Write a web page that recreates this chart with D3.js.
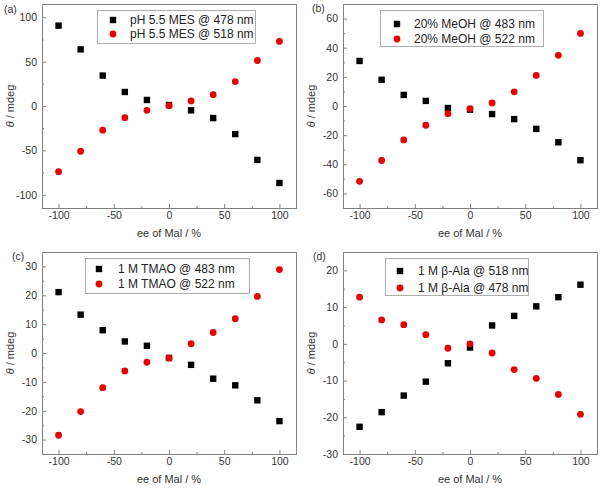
<!DOCTYPE html>
<html>
<head>
<meta charset="utf-8">
<script src="https://cdn.jsdelivr.net/npm/d3@7/dist/d3.min.js"></script>
<style>
  body { margin: 0; background: #fff; }
  svg { display: block; font-family: 'Liberation Sans', Arial, sans-serif; }
  .frame { fill: none; stroke: #808080; stroke-width: 1; }
  .axis path { display: none; }
  .axis line { stroke: #808080; }
  .axis text { fill: #333; font-size: 10.5px; }
</style>
</head>
<body>
<svg id="chart" width="601" height="490"></svg>
<script>
// ee of Mal (%), shared by every panel
const eeOfMal = [-100, -80, -60, -40, -20, 0, 20, 40, 60, 80, 100]

// (a) pH 5.5 MES
const mes478 = [90.6, 63.8, 34.3, 15.8, 6.8, 1.1, -4.9, -13.6, -31.7, -60.8, -86.8]
const mes518 = [-74, -51, -27.2, -13.2, -4.9, 0.4, 5.7, 12.8, 27.5, 51.3, 72.8]

// (b) 20% MeOH
const meoh483 = [30.9, 18, 7.6, 3.5, -1.4, -2.5, -5.5, -9, -15.7, -24.9, -37.2]
const meoh522 = [-51.7, -37.4, -23.3, -13.2, -5.3, -1.8, 2.1, 9.7, 21, 34.8, 49.8]

// (c) 1 M TMAO
const tmao483 = [21.1, 13.3, 7.9, 4, 2.5, -1.7, -4.1, -8.9, -11.2, -16.4, -23.6]
const tmao522 = [-28.5, -20.3, -12, -6.2, -3.2, -1.8, 3.2, 7.1, 11.9, 19.6, 28.9]

// (d) 1 M beta-Ala
const ala518 = [-22.6, -18.6, -14.1, -10.3, -5.3, -1, 5, 7.6, 10.2, 12.7, 16.1]
const ala478 = [12.7, 6.5, 5.2, 2.5, -1.2, 0, -2.5, -7, -9.4, -13.8, -19.2]

const xTicks = [-100, -50, 0, 50, 100]

const panels = [
  {
    tag: '(a)', tagPos: [4, 13], box: [42, 4, 296, 208],
    yDomain: [-115, 115], yTicks: [-100, -50, 0, 50, 100], yMinor: [-75, -25, 25, 75],
    legend: { x: 97, y: 10, w: 158, h: 33, rows: [20, 34], mark: 113, text: 130 },
    series: [
      { name: 'pH 5.5 MES @ 478 nm', values: mes478, shape: 'square' },
      { name: 'pH 5.5 MES @ 518 nm', values: mes518, shape: 'circle' }
    ]
  },
  {
    tag: '(b)', tagPos: [312, 12], box: [343, 4, 597, 208],
    yDomain: [-70, 70], yTicks: [-60, -40, -20, 0, 20, 40, 60], yMinor: [-50, -30, -10, 10, 30, 50],
    legend: { x: 380, y: 10, w: 163, h: 36, rows: [24, 39], mark: 397, text: 414 },
    series: [
      { name: '20% MeOH @ 483 nm', values: meoh483, shape: 'square' },
      { name: '20% MeOH @ 522 nm', values: meoh522, shape: 'circle' }
    ]
  },
  {
    tag: '(c)', tagPos: [12, 260], box: [42, 252, 296, 454],
    yDomain: [-35, 35], yTicks: [-30, -20, -10, 0, 10, 20, 30], yMinor: [-25, -15, -5, 5, 15, 25],
    legend: { x: 85, y: 258, w: 164, h: 35, rows: [269, 284], mark: 99, text: 118 },
    series: [
      { name: '1 M TMAO @ 483 nm', values: tmao483, shape: 'square' },
      { name: '1 M TMAO @ 522 nm', values: tmao522, shape: 'circle' }
    ]
  },
  {
    tag: '(d)', tagPos: [313, 260], box: [343, 252, 597, 454],
    yDomain: [-30, 25], yTicks: [-30, -20, -10, 0, 10, 20], yMinor: [-25, -15, -5, 5, 15],
    legend: { x: 385, y: 258, w: 143, h: 37, rows: [271, 288], mark: 400, text: 418 },
    series: [
      { name: '1 M \u03b2-Ala @ 518 nm', values: ala518, shape: 'square' },
      { name: '1 M \u03b2-Ala @ 478 nm', values: ala478, shape: 'circle' }
    ]
  }
]

const colors = { square: '#000', circle: '#e60000' }
const plain = function (d) { return String(d) }

const svg = d3.select('#chart')

panels.forEach(function (p) {
  let [x0, y0, x1, y1] = p.box
  let x = d3.scaleLinear().domain([-115, 115]).range([x0, x1])
  let y = d3.scaleLinear().domain(p.yDomain).range([y1, y0])
  let g = svg.append('g').attr('class', 'panel')

  // minor ticks
  g.append('g').attr('class', 'axis')
    .attr('transform', 'translate(0,' + y1 + ')')
    .call(d3.axisBottom(x).tickValues([-75, -25, 25, 75]).tickSize(-2).tickFormat(''))
  g.append('g').attr('class', 'axis')
    .attr('transform', 'translate(' + x0 + ',0)')
    .call(d3.axisLeft(y).tickValues(p.yMinor).tickSize(-2).tickFormat(''))

  // major ticks
  g.append('g').attr('class', 'axis')
    .attr('transform', 'translate(0,' + y1 + ')')
    .call(d3.axisBottom(x).tickValues(xTicks).tickSize(-4).tickPadding(4).tickFormat(plain))
  g.append('g').attr('class', 'axis')
    .attr('transform', 'translate(' + x0 + ',0)')
    .call(d3.axisLeft(y).tickValues(p.yTicks).tickSize(-4).tickPadding(5).tickFormat(plain))

  g.append('rect')
    .attr('class', 'frame')
    .attr('x', x0 + 0.5).attr('y', y0 + 0.5)
    .attr('width', x1 - x0).attr('height', y1 - y0)

  // axis titles
  g.append('text')
    .attr('x', (x0 + x1) / 2).attr('y', y1 + 29)
    .attr('text-anchor', 'middle')
    .style('font-size', '11px').style('fill', '#333')
    .text('ee of Mal / %')

  let yt = g.append('text')
    .attr('transform', 'translate(' + (x0 - 28) + ',' + ((y0 + y1) / 2) + ') rotate(-90)')
    .attr('text-anchor', 'middle')
    .style('font-size', '11px').style('fill', '#333')
  yt.append('tspan').style('font-style', 'italic').text('\u03b8')
  yt.append('tspan').text(' / mdeg')

  g.append('text')
    .attr('x', p.tagPos[0]).attr('y', p.tagPos[1])
    .style('font-size', '10.5px').style('fill', '#333')
    .text(p.tag)

  // points
  p.series.forEach(function (s) {
    let pts = g.append('g').selectAll('.pt')
      .data(eeOfMal.map(function (e, i) { return [e, s.values[i]] }))
    if (s.shape === 'square') {
      pts.enter().append('rect')
        .attr('x', function (d) { return x(d[0]) - 3.2 })
        .attr('y', function (d) { return y(d[1]) - 3.2 })
        .attr('width', 6.4).attr('height', 6.4)
        .style('fill', colors.square)
    } else {
      pts.enter().append('circle')
        .attr('cx', function (d) { return x(d[0]) })
        .attr('cy', function (d) { return y(d[1]) })
        .attr('r', 3.4)
        .style('fill', colors.circle)
    }
  })

  // legend
  let L = p.legend
  let lg = g.append('g').attr('class', 'legend')
  lg.append('rect')
    .attr('x', L.x + 0.5).attr('y', L.y + 0.5)
    .attr('width', L.w).attr('height', L.h)
    .style('fill', '#fff').style('stroke', '#999').style('stroke-width', 0.8)

  p.series.forEach(function (s, i) {
    let cy = L.rows[i]
    if (s.shape === 'square') {
      lg.append('rect')
        .attr('x', L.mark - 3.2).attr('y', cy - 3.2)
        .attr('width', 6.4).attr('height', 6.4)
        .style('fill', colors.square)
    } else {
      lg.append('circle')
        .attr('cx', L.mark).attr('cy', cy).attr('r', 3.4)
        .style('fill', colors.circle)
    }
    lg.append('text')
      .attr('x', L.text).attr('y', cy + 4)
      .style('font-size', '12px').style('fill', '#222')
      .text(s.name)
  })
})
</script>
</body>
</html>
